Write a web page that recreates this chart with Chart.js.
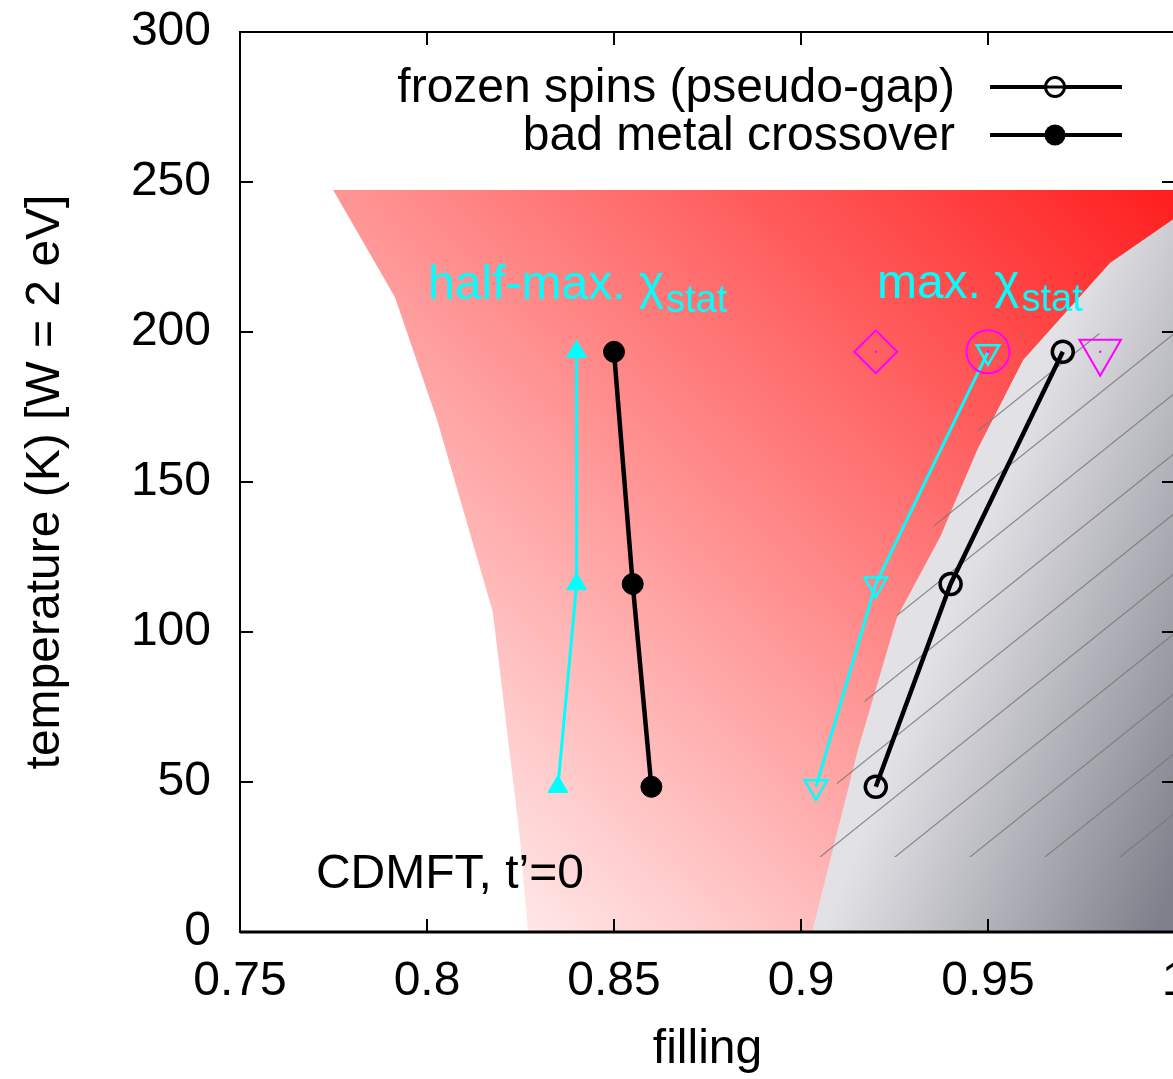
<!DOCTYPE html>
<html>
<head>
<meta charset="utf-8">
<script src="https://cdn.jsdelivr.net/npm/chart.js@4.4.0/dist/chart.umd.min.js"></script>
<style>
  html, body { margin: 0; padding: 0; background: #fff; overflow: hidden; }
  canvas { display: block; }
</style>
</head>
<body>
<canvas id="phase" width="1190" height="1079"></canvas>
<script>
const FONT = "'Liberation Sans', Arial, Helvetica, sans-serif";

// temperatures of the CDMFT runs (K)
const tempLevels = [48.4, 116, 193.4];
const badMetalFilling = [0.86, 0.855, 0.85];
const frozenFilling = [0.92, 0.94, 0.97];
const halfMaxFilling = [0.835, 0.84, 0.84];
const maxChiFilling = [0.904, 0.92, 0.95];
// open magenta symbols at the highest temperature: diamond, circle, triangle
const topMarkFilling = [0.92, 0.95, 0.98];

// shaded regions as closed outlines (filling, temperature)
const metalFilling = [0.827, 0.8249, 0.8176, 0.812, 0.8027, 0.7914, 0.7749, 1.0, 1.0];
const metalTemp    = [0, 30.7, 106.7, 130.7, 170.7, 211.7, 247.3, 247.3, 0];
const mottFilling  = [0.903, 0.9152, 0.9257, 0.9372, 0.9471, 0.9594, 0.9826, 1.0, 1.0];
const mottTemp     = [0, 60.7, 105, 131.7, 160.7, 190.7, 223, 238, 0];
const hatchFilling = [0.905, 0.9096, 0.9171, 0.9257, 0.9353, 0.9473, 0.959, 1.0, 1.0];
const hatchTemp    = [25, 49.7, 77.3, 105.7, 135, 167.3, 199.5, 199.5, 25];

const xTicks = [0.75, 0.8, 0.85, 0.9, 0.95, 1];
const yTicks = [0, 50, 100, 150, 200, 250, 300];

const pts = (xs, ys) => xs.map((x, i) => ({x: x, y: ys[i]}));
const flat = (xs, t) => xs.map(x => ({x: x, y: t}));

const CYAN = '#00ffff';
const MAGENTA = '#ff00ff';
const NONE = 'rgba(0,0,0,0)';

function metalGradient(c) {
  const a = c.chart.chartArea;
  if (!a) return 'rgba(255,120,120,1)';
  const w = a.right - a.left, h = a.bottom - a.top;
  const g = c.chart.ctx.createLinearGradient(a.left + 0.171 * w, a.top + 1.0756 * h, a.right, a.top + 0.1756 * h);
  g.addColorStop(0.02, 'rgb(255,255,255)');
  g.addColorStop(1, 'rgb(255,30,30)');
  return g;
}

function mottGradient(c) {
  const a = c.chart.chartArea;
  if (!a) return '#cccccc';
  const w = a.right - a.left, h = a.bottom - a.top;
  const g = c.chart.ctx.createLinearGradient(a.left + 0.631 * w, a.top + 0.978 * h, a.left + 0.94 * w, a.top + 1.104 * h);
  g.addColorStop(0, 'rgb(226,226,230)');
  g.addColorStop(1, 'rgb(128,128,140)');
  return g;
}

// thin diagonal lines, 75px apart, slope 0.8
let hatch = null;
function hatchPattern(c) {
  if (hatch) return hatch;
  const tile = document.createElement('canvas');
  tile.width = 75; tile.height = 60;
  const t = tile.getContext('2d');
  t.strokeStyle = 'rgba(120,120,120,0.85)';
  t.lineWidth = 1.2;
  for (const k of [-58.75, 16.25, 91.25, 166.25]) {
    t.beginPath();
    t.moveTo(k + 12.5, -10);
    t.lineTo(k - 87.5, 70);
    t.stroke();
  }
  hatch = c.chart.ctx.createPattern(tile, 'repeat');
  return hatch;
}

const frame = {
  id: 'frame',
  afterDatasetsDraw(chart) {
    const {ctx, chartArea: a, scales: {x, y}} = chart;
    ctx.save();
    ctx.strokeStyle = '#000';
    ctx.lineWidth = 2;
    ctx.beginPath();
    for (const v of xTicks) {
      const px = x.getPixelForValue(v);
      ctx.moveTo(px, a.bottom); ctx.lineTo(px, a.bottom - 13);
      ctx.moveTo(px, a.top); ctx.lineTo(px, a.top + 13);
    }
    for (const v of yTicks) {
      const py = y.getPixelForValue(v);
      ctx.moveTo(a.left, py); ctx.lineTo(a.left + 13, py);
      ctx.moveTo(a.right, py); ctx.lineTo(a.right - 13, py);
    }
    ctx.stroke();
    ctx.lineWidth = 2;
    ctx.strokeRect(a.left, a.top, a.right - a.left, a.bottom - a.top);
    ctx.beginPath();
    ctx.lineWidth = 3;
    ctx.moveTo(a.left, a.bottom); ctx.lineTo(a.right, a.bottom);
    ctx.stroke();
    ctx.restore();
  }
};

function chiLabel(ctx, prefix, px, py) {
  ctx.font = '48px ' + FONT;
  const head = prefix + ' \u03c7';
  ctx.fillText(head, px, py);
  const w = ctx.measureText(head).width;
  ctx.font = '38px ' + FONT;
  ctx.fillText('stat', px + w + 2, py + 13);
}

const notes = {
  id: 'notes',
  afterDraw(chart) {
    const {ctx, chartArea: a, scales: {x, y}} = chart;
    ctx.save();
    ctx.textBaseline = 'alphabetic';
    ctx.textAlign = 'left';
    ctx.fillStyle = CYAN;
    chiLabel(ctx, 'half-max.', x.getPixelForValue(0.8003), y.getPixelForValue(211));
    chiLabel(ctx, 'max.', x.getPixelForValue(0.9203), y.getPixelForValue(211.3));
    ctx.fillStyle = '#000';
    ctx.font = '48px ' + FONT;
    ctx.fillText('CDMFT, t\u2019=0', x.getPixelForValue(0.7703), y.getPixelForValue(14.7));

    // key, top right
    const rows = [
      {text: 'frozen spins (pseudo-gap)', open: true, dy: 70},
      {text: 'bad metal crossover', open: false, dy: 118}
    ];
    const cx = a.right - 120;
    for (const r of rows) {
      const base = a.top + r.dy;
      const mid = base - 15;
      ctx.fillStyle = '#000';
      ctx.textAlign = 'right';
      ctx.fillText(r.text, a.right - 220, base);
      ctx.strokeStyle = '#000';
      ctx.lineWidth = 4;
      ctx.beginPath();
      ctx.moveTo(a.right - 185, mid);
      ctx.lineTo(a.right - 53, mid);
      ctx.stroke();
      ctx.beginPath();
      if (r.open) {
        ctx.lineWidth = 3;
        ctx.arc(cx, mid, 9.5, 0, Math.PI * 2);
        ctx.fillStyle = '#fff';
        ctx.fill();
        ctx.stroke();
        ctx.beginPath();
        ctx.moveTo(cx - 9.5, mid); ctx.lineTo(cx + 9.5, mid);
        ctx.stroke();
      } else {
        ctx.arc(cx, mid, 10.5, 0, Math.PI * 2);
        ctx.fill();
      }
    }
    ctx.restore();
  }
};

Chart.defaults.font.family = FONT;
Chart.defaults.font.size = 48;
Chart.defaults.color = '#000';

new Chart(document.getElementById('phase'), {
  type: 'scatter',
  data: {
    datasets: [
      {
        data: pts(metalFilling, metalTemp), showLine: true, fill: 'shape',
        backgroundColor: metalGradient, borderColor: NONE, borderWidth: 0,
        pointRadius: 0, tension: 0, order: 10
      },
      {
        data: pts(mottFilling, mottTemp), showLine: true, fill: 'shape',
        backgroundColor: mottGradient, borderColor: NONE, borderWidth: 0,
        pointRadius: 0, tension: 0, order: 9
      },
      {
        data: pts(hatchFilling, hatchTemp), showLine: true, fill: 'shape',
        backgroundColor: hatchPattern, borderColor: NONE, borderWidth: 0,
        pointRadius: 0, tension: 0, order: 8
      },
      {
        data: pts(halfMaxFilling, tempLevels), showLine: true,
        borderColor: CYAN, borderWidth: 3,
        pointStyle: 'triangle', pointRadius: 11.5, pointBorderWidth: 1,
        pointBackgroundColor: CYAN, pointBorderColor: CYAN, order: 6
      },
      {
        data: pts(maxChiFilling, tempLevels), showLine: true,
        borderColor: CYAN, borderWidth: 3,
        pointStyle: 'triangle', pointRotation: 180, pointRadius: 13, pointBorderWidth: 2.5,
        pointBackgroundColor: NONE, pointBorderColor: CYAN, order: 5
      },
      {
        data: pts(badMetalFilling, tempLevels), showLine: true,
        borderColor: '#000', borderWidth: 4.5,
        pointStyle: 'circle', pointRadius: 10.5, pointBorderWidth: 1,
        pointBackgroundColor: '#000', pointBorderColor: '#000', order: 4
      },
      {
        data: pts(frozenFilling, tempLevels), showLine: true,
        borderColor: '#000', borderWidth: 4.5,
        pointStyle: 'circle', pointRadius: 10.5, pointBorderWidth: 3.5,
        pointBackgroundColor: NONE, pointBorderColor: '#000', order: 3
      },
      {
        data: flat(topMarkFilling.slice(0, 1), tempLevels[2]),
        pointStyle: 'rectRot', pointRadius: 21.5, pointBorderWidth: 2,
        pointBackgroundColor: NONE, pointBorderColor: MAGENTA, order: 2
      },
      {
        data: flat(topMarkFilling.slice(1, 2), tempLevels[2]),
        pointStyle: 'circle', pointRadius: 21.5, pointBorderWidth: 2,
        pointBackgroundColor: NONE, pointBorderColor: MAGENTA, order: 2
      },
      {
        data: flat(topMarkFilling.slice(2, 3), tempLevels[2]),
        pointStyle: 'triangle', pointRotation: 180, pointRadius: 24, pointBorderWidth: 2,
        pointBackgroundColor: NONE, pointBorderColor: MAGENTA, order: 2
      },
      {
        data: flat(topMarkFilling, tempLevels[2]),
        pointStyle: 'circle', pointRadius: 1.2, pointBorderWidth: 0,
        pointBackgroundColor: MAGENTA, pointBorderColor: MAGENTA, order: 1
      }
    ]
  },
  options: {
    responsive: false,
    animation: false,
    events: [],
    layout: {autoPadding: false, padding: {top: 32, right: 15, left: 0, bottom: 0}},
    plugins: {legend: {display: false}, tooltip: {enabled: false}},
    scales: {
      x: {
        type: 'linear', min: 0.75, max: 1.0,
        afterBuildTicks: s => { s.ticks = xTicks.map(v => ({value: v})); },
        afterFit: s => { s.height = 147; s.paddingLeft = 0; s.paddingRight = 0; },
        border: {display: false},
        grid: {display: false, drawTicks: false},
        ticks: {padding: 21, maxRotation: 0, autoSkip: false, callback: v => String(+v.toFixed(2))},
        title: {display: true, text: 'filling', padding: {top: 0, bottom: 0}}
      },
      y: {
        type: 'linear', min: 0, max: 300,
        afterBuildTicks: s => { s.ticks = yTicks.map(v => ({value: v})); },
        afterFit: s => { s.width = 240; s.paddingTop = 0; s.paddingBottom = 0; },
        border: {display: false},
        grid: {display: false, drawTicks: false},
        ticks: {padding: 29, autoSkip: false},
        title: {display: true, text: 'temperature (K) [W = 2 eV]', padding: {top: 17, bottom: 0}}
      }
    }
  },
  plugins: [frame, notes]
});
</script>
</body>
</html>
